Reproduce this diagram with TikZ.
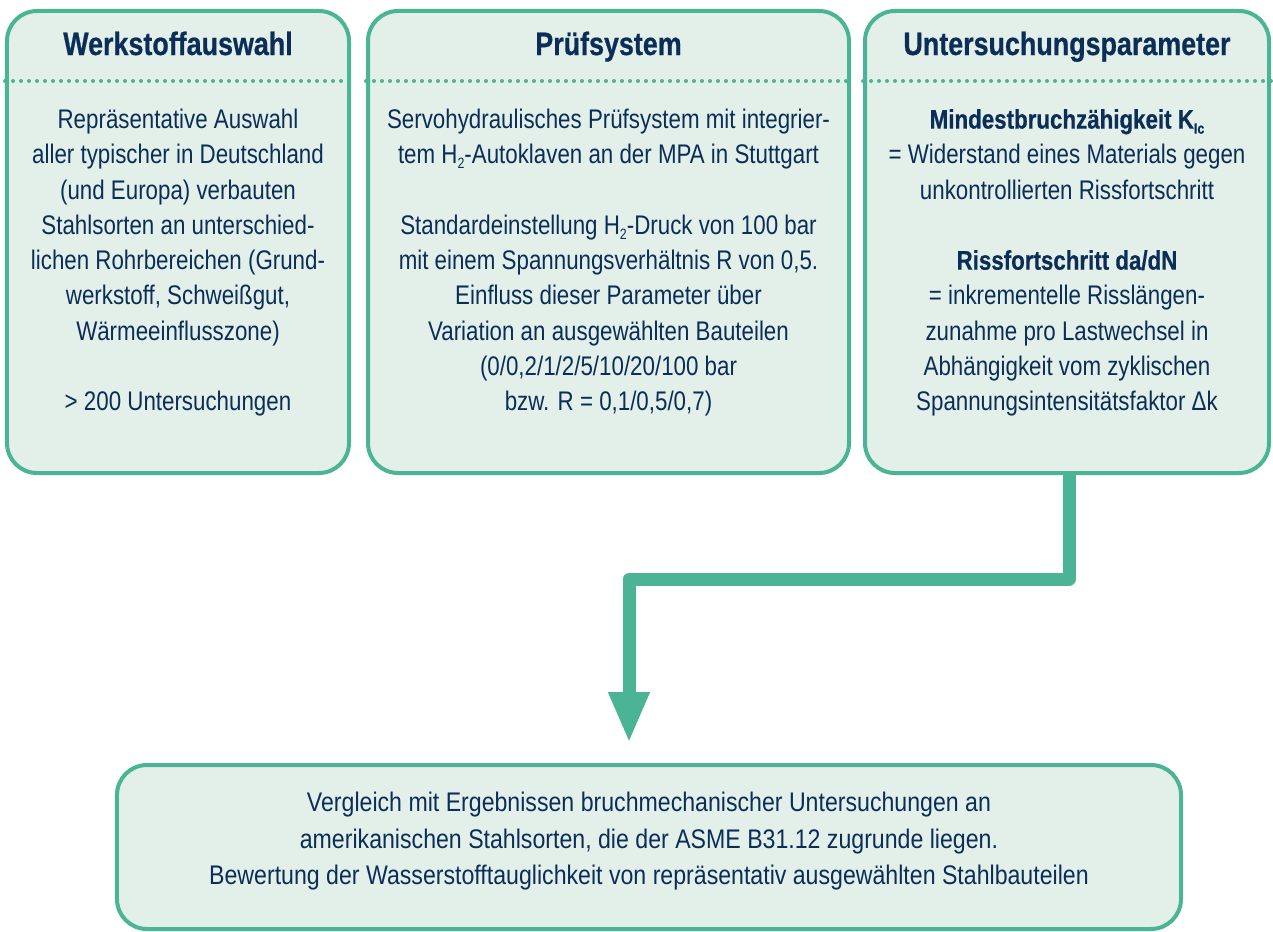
\documentclass[tikz,border=0pt]{standalone}
\usepackage{fontspec}
\setmainfont[FakeStretch=0.83,BoldFeatures={FakeBold=0.6}]{Liberation Sans}
\newfontfamily\widebody[FakeStretch=0.86]{Liberation Sans}
\usetikzlibrary{arrows.meta}
\definecolor{tealline}{RGB}{74,180,148}
\definecolor{boxfill}{RGB}{226,240,233}
\definecolor{navy}{RGB}{11,45,88}
\newcommand{\lowsub}[1]{\raisebox{-5bp}{\fontsize{15}{15}\selectfont #1}}
\tikzset{
  panel/.style={draw=tealline, fill=boxfill, line width=4bp, rounded corners=30bp, inner sep=0pt},
  panelrule/.style={draw=tealline, line width=4bp, line cap=round, dash pattern=on 0bp off 8bp},
  titletext/.style={text=navy, font=\fontsize{32.5}{36}\selectfont\bfseries, anchor=base, inner sep=0pt},
  bodytext/.style={text=navy, font=\fontsize{27}{35.4}\selectfont, anchor=north, align=center, inner sep=0pt},
  flow/.style={draw=tealline, line width=13bp, line join=round, -{Triangle[length=51bp,width=38bp]}}
}
\begin{document}
\begin{tikzpicture}[x=1bp,y=-1bp]
\useasboundingbox (0,0) rectangle (1273,932);
% panels
\node[panel, minimum width=342bp, minimum height=462bp] (box1) at (178,242) {};
\node[panel, minimum width=481bp, minimum height=462bp] (box2) at (608.5,242) {};
\node[panel, minimum width=404bp, minimum height=462bp] (box3) at (1067,242) {};
\node[panel, minimum width=1064bp, minimum height=164bp] (box4) at (649,847) {};
% dotted rules
\draw[panelrule] (box1.west |- 0,81) -- (box1.east |- 0,81);
\draw[panelrule] (box2.west |- 0,81) -- (box2.east |- 0,81);
\draw[panelrule] (box3.west |- 0,81) -- (box3.east |- 0,81);
% titles
\node[titletext] (t1) at (178,55) {Werkstoffauswahl};
\node[titletext] (t2) at (608.5,55) {Prüfsystem};
\node[titletext] (t3) at (1067,55) {Untersuchungsparameter};
% body texts
\node[bodytext] (b1) at (178,103.7) {\strut Repräsentative Auswahl\\
aller typischer in Deutschland\\
(und Europa) verbauten\\
Stahlsorten an unterschied-\\
lichen Rohrbereichen (Grund-\\
werkstoff, Schweißgut,\\
Wärmeeinflusszone)\\[\baselineskip]
> 200 Untersuchungen};
\node[bodytext] (b2) at (608.5,103.7) {\strut Servohydraulisches Prüfsystem mit integrier-\\
tem H\lowsub{2}-Autoklaven an der MPA in Stuttgart\\[\baselineskip]
Standardeinstellung H\lowsub{2}-Druck von 100 bar\\
mit einem Spannungsverhältnis R von 0,5.\\
Einfluss dieser Parameter über\\
Variation an ausgewählten Bauteilen\\
(0/0,2/1/2/5/10/20/100 bar\\
bzw. R = 0,1/0,5/0,7)};
\node[bodytext] (b3) at (1067,103.7) {\strut\textbf{Mindestbruchzähigkeit K\lowsub{Ic}}\\
= Widerstand eines Materials gegen\\
unkontrollierten Rissfortschritt\\[\baselineskip]
\textbf{Rissfortschritt da/dN}\\
= inkrementelle Risslängen-\\
zunahme pro Lastwechsel in\\
Abhängigkeit vom zyklischen\\
Spannungsintensitätsfaktor Δk};
\node[bodytext, font=\widebody\fontsize{27}{36.7}\selectfont] (b4) at (649,786) {\strut Vergleich mit Ergebnissen bruchmechanischer Untersuchungen an\\
amerikanischen Stahlsorten, die der ASME B31.12 zugrunde liegen.\\
Bewertung der Wasserstofftauglichkeit von repräsentativ ausgewählten Stahlbauteilen};
% connector
\coordinate (bend) at (629,579);
\coordinate (tip) at (629,743);
\draw[flow] ([xshift=2bp]box3.south) |- (bend) -- (tip);
\end{tikzpicture}
\end{document}
